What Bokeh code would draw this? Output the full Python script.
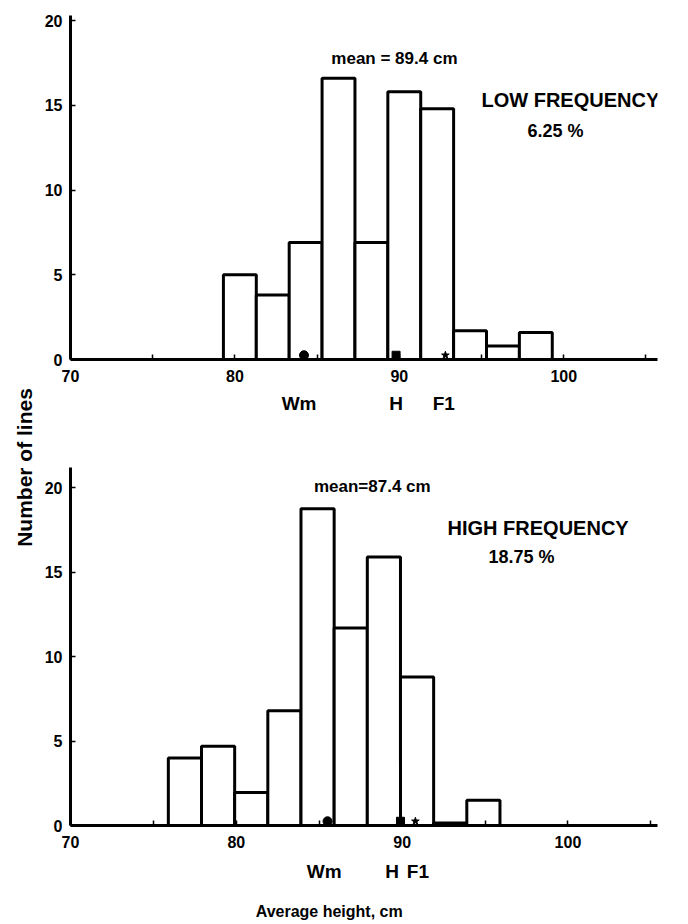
from bokeh.plotting import figure
from bokeh.layouts import row, column
from bokeh.models import FixedTicker, Label, Range1d, LinearAxis, CustomJSTickFormatter
from bokeh.embed import file_html
from bokeh.resources import INLINE

# ---------------- data ----------------
# Low frequency panel (bins of width 2 cm)
low_left = [79.3, 81.3, 83.3, 85.3, 87.3, 89.3, 91.3, 93.3, 95.3, 97.3]
low_right = [81.3, 83.3, 85.3, 87.3, 89.3, 91.3, 93.3, 95.3, 97.3, 99.3]
low_counts = [5.0, 3.8, 6.9, 16.6, 6.9, 15.8, 14.8, 1.7, 0.8, 1.6]

# High frequency panel
high_left = [75.9, 77.9, 79.9, 81.9, 83.9, 85.9, 87.9, 89.9, 91.9, 93.9]
high_right = [77.9, 79.9, 81.9, 83.9, 85.9, 87.9, 89.9, 91.9, 93.9, 95.9]
high_counts = [4.0, 4.7, 1.95, 6.8, 18.75, 11.7, 15.9, 8.8, 0.15, 1.5]

# parental / F1 means (Wm, H, F1)
low_parents_x = [84.2, 89.8, 92.8]
high_parents_x = [85.5, 89.9, 90.8]
parents_y = [0.25, 0.25, 0.25]
parent_markers = ["circle", "square", "star"]
parent_names = ["Wm", "H", "F1"]
low_name_x = [83.9, 89.8, 92.7]
high_name_x = [85.3, 89.4, 90.95]

y_ticks = [0, 5, 10, 15, 20]
x_ticks = [70, 80, 90, 100]
x_minor = [75, 85, 95, 105]

low_mean_text = "mean = 89.4 cm"
high_mean_text = "mean=87.4 cm"
low_title = "LOW FREQUENCY"
low_pct = "6.25 %"
high_title = "HIGH FREQUENCY"
high_pct = "18.75 %"
x_title = "Average height, cm"
x_title_pos = [85.6]
y_title = "Number of lines"

FONT = "Liberation Sans"


def label_axis(p, positions, names, standoff, size):
    ax = LinearAxis(ticker=FixedTicker(ticks=positions, minor_ticks=[]),
                    formatter=CustomJSTickFormatter(
                        args=dict(names=names, pos=positions),
                        code="""
                        for (let i = 0; i < pos.length; i++) {
                            if (Math.abs(pos[i] - tick) < 1e-6) { return names[i]; }
                        }
                        return "";
                        """))
    ax.axis_line_color = None
    ax.major_tick_line_color = None
    ax.minor_tick_line_color = None
    ax.major_label_standoff = standoff
    ax.major_label_text_font = FONT
    ax.major_label_text_font_style = "bold"
    ax.major_label_text_font_size = size
    ax.major_label_text_color = "black"
    p.add_layout(ax, "below")
    return ax


def make_panel(height, border_top, border_bottom, x_end, y_end, left, right, counts,
               px, py, name_x, name_standoff):
    p = figure(width=648, height=height, output_backend="svg", toolbar_location=None,
               x_range=Range1d(70, x_end), y_range=Range1d(0, y_end),
               min_border_left=30, min_border_right=648 - 30 - int(round((x_end - 70) * 16.58)),
               min_border_top=border_top, min_border_bottom=border_bottom)
    p.outline_line_color = None
    p.xgrid.visible = False
    p.ygrid.visible = False
    p.background_fill_color = "white"
    p.border_fill_color = "white"

    p.quad(left=left, right=right, bottom=0, top=counts, fill_color="white",
           line_color="black", line_width=3)

    for xv, yv, mk in zip(px, py, parent_markers):
        size = 9 if mk == "circle" else 8
        p.scatter([xv], [yv], marker=mk, size=size, color="black")

    for ax in (p.xaxis[0], p.yaxis[0]):
        ax.axis_line_width = 3
        ax.axis_line_color = "black"
        ax.major_tick_in = 5
        ax.major_tick_out = 0
        ax.minor_tick_in = 5
        ax.minor_tick_out = 0
        ax.major_tick_line_width = 1.5
        ax.minor_tick_line_width = 1.5
        ax.major_label_text_font = FONT
        ax.major_label_text_font_style = "bold"
        ax.major_label_text_font_size = "16px"
        ax.major_label_text_color = "black"
    p.xaxis[0].ticker = FixedTicker(ticks=x_ticks, minor_ticks=x_minor)
    p.yaxis[0].ticker = FixedTicker(ticks=y_ticks, minor_ticks=[])
    p.xaxis[0].major_label_standoff = 10
    p.yaxis[0].major_label_standoff = 8

    label_axis(p, name_x, parent_names, name_standoff, "19px")
    return p


top = make_panel(440, 15, 81, 105.7, 20.3, low_left, low_right, low_counts,
                 low_parents_x, parents_y, low_name_x, 2)
bottom = make_panel(484, 27, 99, 105.4, 21.2, high_left, high_right, high_counts,
                    high_parents_x, parents_y, high_name_x, 4)
label_axis(bottom, x_title_pos, [x_title], 12, "16px")


def add_text(p, x, y, text, size):
    p.add_layout(Label(x=x, y=y, text=text, text_align="center", text_baseline="middle",
                       text_font=FONT, text_font_style="bold", text_font_size=size,
                       text_color="black"))


add_text(top, 89.7, 17.75, low_mean_text, "17px")
add_text(top, 100.4, 15.3, low_title, "20px")
add_text(top, 99.5, 13.5, low_pct, "18px")

add_text(bottom, 88.2, 20.1, high_mean_text, "17px")
add_text(bottom, 98.2, 17.6, high_title, "20px")
add_text(bottom, 97.2, 15.9, high_pct, "18px")

# left strip carrying the shared y-axis title
side = figure(width=40, height=924, output_backend="svg", toolbar_location=None,
              x_range=Range1d(0, 40), y_range=Range1d(0, 924),
              min_border=0, min_border_left=0, min_border_right=0,
              min_border_top=0, min_border_bottom=0)
side.axis.visible = False
side.xgrid.visible = False
side.ygrid.visible = False
side.outline_line_color = None
side.add_layout(Label(x=24, y=924 - 467, text=y_title, angle=1.5708,
                      angle_units="rad", text_align="center", text_baseline="middle",
                      text_font=FONT, text_font_style="bold", text_font_size="21px",
                      text_color="black"))

layout = row(side, column(top, bottom, spacing=0), spacing=0)

open("out.html", "w").write(file_html(layout, INLINE))
